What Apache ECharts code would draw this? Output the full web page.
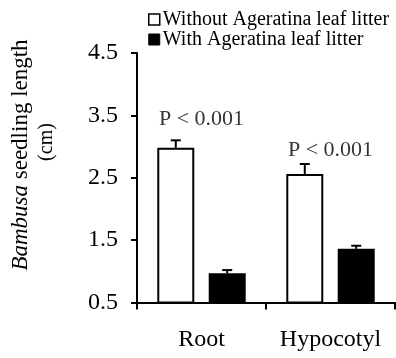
<!DOCTYPE html>
<html>
<head>
<meta charset="utf-8">
<script src="https://cdn.jsdelivr.net/npm/echarts@6/dist/echarts.min.js"></script>
<style>
  html, body { margin: 0; padding: 0; background: #fff; }
  #chart { width: 396px; height: 358px; }
</style>
</head>
<body>
<div id="chart"></div>
<script>
// Seedling length of Bambusa with and without Ageratina leaf litter
const categories = ['Root', 'Hypocotyl'];
const seriesNames = ['Without Ageratina leaf litter', 'With Ageratina leaf litter'];
const withoutLitter = [2.98, 2.56];
const withoutLitterErr = [0.12, 0.16];
const withLitter = [0.97, 1.36];
const withLitterErr = [0.05, 0.05];
const pTexts = ['P < 0.001', 'P < 0.001'];
const pTextLevel = [3.44, 2.94];
const yTicks = { min: 0.5, max: 4.5, interval: 1 };

const FONT = "'Liberation Serif', 'Times New Roman', serif";
const BAR_WIDTH = 37;
const BAR_GAP = 0.39;
const halfStep = (BAR_WIDTH + BAR_WIDTH * BAR_GAP) / 2;

function errorBarSeries(values, errs, offset) {
  return {
    type: 'custom',
    z: 5,
    silent: true,
    data: values.map((v, i) => [i, v, errs[i]]),
    renderItem(params, api) {
      const cat = api.value(0), v = api.value(1), e = api.value(2);
      const base = api.coord([cat, v]);
      const top = api.coord([cat, v + e]);
      const x = base[0] + offset;
      const st = { stroke: '#000', lineWidth: 2 };
      return {
        type: 'group',
        children: [
          { type: 'line', shape: { x1: x, y1: base[1], x2: x, y2: top[1] }, style: st },
          { type: 'line', shape: { x1: x - 5, y1: top[1], x2: x + 5, y2: top[1] }, style: st }
        ]
      };
    }
  };
}

const chart = echarts.init(document.getElementById('chart'), null, { renderer: 'canvas' });
chart.setOption({
  backgroundColor: '#fff',
  animation: false,
  textStyle: { fontFamily: FONT, color: '#000' },
  grid: { left: 137, right: 1, top: 53, bottom: 55.5, containLabel: false },
  legend: {
    orient: 'vertical',
    left: 148,
    top: 9.5,
    padding: 0,
    itemGap: 0,
    itemWidth: 11,
    itemHeight: 11,
    icon: 'rect',
    textStyle: { fontFamily: FONT, fontSize: 20, color: '#000', lineHeight: 18, padding: [0, 0, 0, -2] },
    data: [
      { name: seriesNames[0], itemStyle: { color: '#fff', borderColor: '#000', borderWidth: 1.5 } },
      { name: seriesNames[1], itemStyle: { color: '#000', borderColor: '#000', borderWidth: 1 } }
    ]
  },
  xAxis: {
    type: 'category',
    data: categories,
    boundaryGap: true,
    axisLine: { lineStyle: { color: '#000', width: 2 } },
    axisTick: { show: true, length: 7, lineStyle: { color: '#000', width: 2 } },
    axisLabel: { fontFamily: FONT, fontSize: 24, color: '#000', margin: 25, interval: 0, hideOverlap: false }
  },
  yAxis: {
    type: 'value',
    min: yTicks.min,
    max: yTicks.max,
    interval: yTicks.interval,
    splitLine: { show: false },
    axisLine: { show: true, lineStyle: { color: '#000', width: 2 } },
    axisTick: { show: true, length: 6, lineStyle: { color: '#000', width: 2 } },
    axisLabel: { fontFamily: FONT, fontSize: 24, color: '#000', margin: 19, formatter: v => v.toFixed(1) }
  },
  series: [
    {
      name: seriesNames[0],
      type: 'bar',
      data: withoutLitter,
      barWidth: BAR_WIDTH,
      barGap: (BAR_GAP * 100) + '%',
      itemStyle: { color: '#fff', borderColor: '#000', borderWidth: 2 }
    },
    {
      name: seriesNames[1],
      type: 'bar',
      data: withLitter,
      barWidth: BAR_WIDTH,
      barGap: (BAR_GAP * 100) + '%',
      itemStyle: { color: '#000', borderColor: '#000', borderWidth: 2 }
    },
    errorBarSeries(withoutLitter, withoutLitterErr, -halfStep),
    errorBarSeries(withLitter, withLitterErr, halfStep),
    {
      type: 'scatter',
      symbolSize: 0,
      silent: true,
      data: pTexts.map((t, i) => ({ value: [i, pTextLevel[i]], name: t })),
      label: {
        show: true,
        position: 'inside',
        formatter: p => p.name,
        fontFamily: FONT,
        fontSize: 22,
        color: '#000'
      }
    }
  ],
  graphic: [
    {
      type: 'text',
      x: 21,
      y: 155,
      rotation: Math.PI / 2,
      style: {
        text: '{i|Bambusa} seedling length',
        rich: { i: { fontStyle: 'italic', fontFamily: FONT, fontSize: 23 } },
        fontFamily: FONT,
        fontSize: 23,
        fill: '#000',
        align: 'center',
        verticalAlign: 'middle'
      }
    },
    {
      type: 'text',
      x: 47,
      y: 142,
      rotation: Math.PI / 2,
      style: {
        text: '(cm)',
        fontFamily: FONT,
        fontSize: 20,
        fill: '#000',
        align: 'center',
        verticalAlign: 'middle'
      }
    }
  ]
});
</script>
</body>
</html>
